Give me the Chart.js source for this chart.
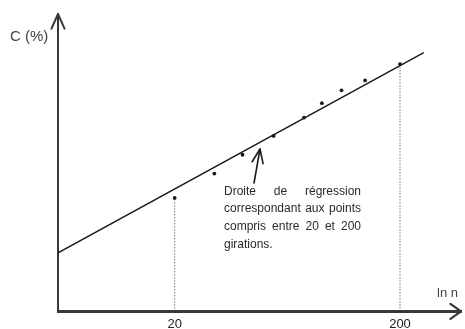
<!DOCTYPE html>
<html>
<head>
<meta charset="utf-8">
<script src="https://cdn.jsdelivr.net/npm/chart.js@4/dist/chart.umd.min.js"></script>
<style>
  html, body { margin: 0; padding: 0; background: #fff; }
  #wrap { width: 465px; height: 329px; }
</style>
</head>
<body>
<div id="wrap"><canvas id="c"></canvas></div>
<script>
// Measured points: number of gyrations n (log axis) and C (%)
const gyrations = [20, 30, 40, 55, 75, 90, 110, 140, 200];
const concentration = [11.45, 13.9, 15.8, 17.7, 19.55, 21.0, 22.3, 23.3, 24.95];

// Regression line through the points between 20 and 200 gyrations (end points)
const fitN = [6.07, 255];
const fitC = [5.9, 26.1];

// Labelled gyration counts on the horizontal axis
const tickValues = [20, 200];

// Annotation text
const noteLines = ['Droite de régression', 'correspondant aux points', 'compris entre 20 et 200', 'girations.'];

const INK = '#1a1a1a';
const AXIS = '#383838';
const FONT = '"Liberation Sans", Arial, sans-serif';

const points = gyrations.map((n, i) => ({ x: n, y: concentration[i] }));
const fitLine = fitN.map((n, i) => ({ x: n, y: fitC[i] }));
const first = points[0];
const last = points[points.length - 1];

function justify(ctx, text, x, y, width, stretch) {
  const words = text.split(' ');
  if (!stretch || words.length < 2) { ctx.fillText(text, x, y); return; }
  const used = words.reduce((s, w) => s + ctx.measureText(w).width, 0);
  const gap = (width - used) / (words.length - 1);
  let cx = x;
  words.forEach(w => { ctx.fillText(w, cx, y); cx += ctx.measureText(w).width + gap; });
}

function chevron(ctx, tx, ty, angle, len, spread) {
  ctx.beginPath();
  ctx.moveTo(tx - len * Math.cos(angle - spread), ty - len * Math.sin(angle - spread));
  ctx.lineTo(tx, ty);
  ctx.lineTo(tx - len * Math.cos(angle + spread), ty - len * Math.sin(angle + spread));
  ctx.stroke();
}

const decor = {
  id: 'decor',
  afterDraw(chart) {
    const { ctx, chartArea: a } = chart;
    ctx.save();
    ctx.strokeStyle = AXIS;
    ctx.lineCap = 'round';
    ctx.lineJoin = 'round';
    // axis arrow heads
    ctx.lineWidth = 2;
    chevron(ctx, a.left, a.top, -Math.PI / 2, 16, 0.42);
    ctx.lineWidth = 2.2;
    chevron(ctx, a.right, a.bottom, 0, 13, 0.62);

    // axis names
    ctx.fillStyle = '#444';
    ctx.textBaseline = 'middle';
    ctx.font = '15px ' + FONT;
    ctx.fillText('C (%)', 10, 37);
    ctx.font = '13px ' + FONT;
    ctx.fillText('ln n', a.left + 379, a.bottom - 18);

    // annotation arrow pointing at the regression line
    ctx.strokeStyle = INK;
    ctx.lineWidth = 1.6;
    const tx = 260, ty = 149, sx = 254, sy = 183;
    ctx.beginPath(); ctx.moveTo(sx, sy); ctx.lineTo(tx, ty); ctx.stroke();
    chevron(ctx, tx, ty, Math.atan2(ty - sy, tx - sx), 15, 0.38);

    // annotation text
    ctx.fillStyle = '#2a2a2a';
    ctx.font = '12px ' + FONT;
    ctx.textBaseline = 'middle';
    const lx = 224, w = 137, rows = [192, 209, 227, 245];
    noteLines.forEach((t, i) => justify(ctx, t, lx, rows[i], w, i < noteLines.length - 1));
    ctx.restore();
  }
};

new Chart(document.getElementById('c'), {
  type: 'scatter',
  data: {
    datasets: [
      {
        type: 'line', data: fitLine, borderColor: INK, borderWidth: 1.5,
        pointRadius: 0, fill: false, order: 3
      },
      {
        type: 'line', data: [{ x: first.x, y: 0 }, first], borderColor: '#333',
        borderWidth: 1, borderDash: [1, 2], pointRadius: 0, fill: false, order: 4
      },
      {
        type: 'line', data: [{ x: last.x, y: 0 }, last], borderColor: '#333',
        borderWidth: 1, borderDash: [1, 2], pointRadius: 0, fill: false, order: 4
      },
      {
        data: points, backgroundColor: INK, borderColor: INK,
        pointRadius: 1.9, pointBorderWidth: 0, order: 1
      }
    ]
  },
  options: {
    responsive: true,
    maintainAspectRatio: false,
    animation: false,
    layout: { padding: { left: 58, top: 14, right: 3, bottom: -8 } },
    plugins: { legend: { display: false }, tooltip: { enabled: false } },
    scales: {
      x: {
        type: 'logarithmic',
        min: 6.07,
        max: 373,
        grid: { display: false, drawTicks: false },
        border: { display: true, color: AXIS, width: 3 },
        afterBuildTicks: s => { s.ticks = tickValues.map(v => ({ value: v })); },
        ticks: {
          autoSkip: false, maxRotation: 0, padding: 5, color: '#222',
          font: { family: FONT, size: 13 },
          callback: v => String(v)
        }
      },
      y: {
        type: 'linear',
        min: 0,
        max: 30,
        grid: { display: false, drawTicks: false },
        border: { display: true, color: AXIS, width: 2 },
        ticks: { display: false }
      }
    }
  },
  plugins: [decor]
});
</script>
</body>
</html>
